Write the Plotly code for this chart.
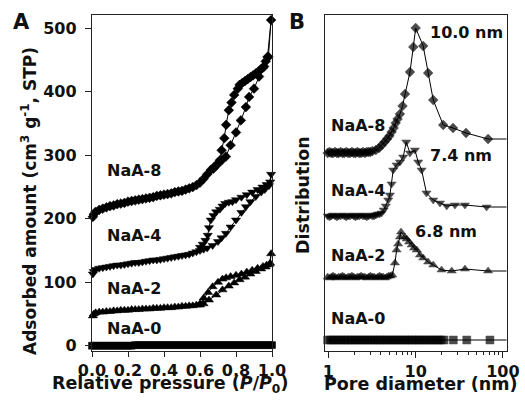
import plotly.graph_objects as go

# ---------------- Panel A: isotherms (relative pressure, adsorbed amount) ----------------
p8_ads = [0.005, 0.01, 0.02, 0.04, 0.06, 0.08, 0.10, 0.12, 0.14, 0.16, 0.18, 0.20, 0.22, 0.24, 0.26, 0.28,
          0.30, 0.32, 0.34, 0.36, 0.38, 0.40, 0.42, 0.44, 0.46, 0.48, 0.50, 0.52, 0.54, 0.56, 0.58, 0.60,
          0.62, 0.64, 0.66, 0.68, 0.70, 0.72, 0.744, 0.77, 0.80, 0.827, 0.855, 0.873, 0.90, 0.928, 0.95,
          0.965, 0.98, 0.995]
v8_ads = [203, 207, 211, 214, 216, 218, 220, 221, 223, 224, 225, 227, 228, 229, 230, 231,
          232, 233, 234, 236, 237, 238, 239, 240, 242, 243, 244, 246, 248, 250, 253, 257,
          263, 270, 277, 282, 287, 292, 298, 316, 336, 355, 376, 392, 405, 424, 438,
          448, 455, 513]
p8_des = [0.975, 0.956, 0.94, 0.925, 0.91, 0.895, 0.88, 0.865, 0.85, 0.835, 0.82, 0.81, 0.79, 0.775,
          0.76, 0.745, 0.735, 0.72, 0.71, 0.69, 0.675]
v8_des = [455, 440, 436, 432, 429, 426, 423, 420, 417, 414, 411, 405, 395, 383,
          371, 348, 327, 308, 292, 284, 279]

p4_ads = [0.005, 0.01, 0.02, 0.04, 0.06, 0.08, 0.10, 0.12, 0.14, 0.16, 0.18, 0.20, 0.22, 0.24, 0.26, 0.28,
          0.30, 0.32, 0.34, 0.36, 0.38, 0.40, 0.42, 0.44, 0.46, 0.48, 0.50, 0.52, 0.54, 0.56, 0.58, 0.60,
          0.62, 0.64, 0.67, 0.70, 0.72, 0.744, 0.77, 0.80, 0.83, 0.855, 0.88, 0.91, 0.94, 0.96, 0.983, 0.995]
v4_ads = [113, 117, 120, 122, 123, 124, 125, 126, 127, 127, 128, 129, 130, 131, 131, 132,
          133, 134, 135, 135, 136, 137, 138, 139, 140, 141, 142, 143, 144, 146, 148, 150,
          152, 154, 158, 164, 170, 177, 187, 198, 210, 219, 227, 235, 242, 246, 252, 270]
p4_des = [0.99, 0.97, 0.947, 0.92, 0.89, 0.86, 0.83, 0.80, 0.78, 0.76, 0.74, 0.725, 0.71, 0.69, 0.675,
          0.66, 0.65, 0.643, 0.63, 0.615, 0.60]
v4_des = [258, 254, 250, 246, 242, 238, 234, 230, 227, 226, 224, 220, 215, 211, 205,
          198, 186, 174, 166, 160, 155]

p2_ads = [0.005, 0.01, 0.02, 0.04, 0.06, 0.08, 0.10, 0.12, 0.14, 0.16, 0.18, 0.20, 0.22, 0.24, 0.26, 0.28,
          0.30, 0.32, 0.34, 0.36, 0.38, 0.40, 0.42, 0.44, 0.46, 0.48, 0.50, 0.52, 0.54, 0.56, 0.58, 0.60,
          0.62, 0.65, 0.69, 0.725, 0.76, 0.79, 0.82, 0.85, 0.88, 0.91, 0.94, 0.965, 0.985, 0.995]
v2_ads = [47, 50, 52, 53, 53, 54, 54, 55, 55, 56, 56, 56, 57, 57, 57, 58,
          58, 58, 59, 59, 59, 60, 60, 60, 61, 61, 62, 62, 63, 63, 64, 64,
          66, 72, 80, 88, 94, 99, 104, 108, 113, 117, 121, 124, 128, 145]
p2_des = [0.99, 0.97, 0.95, 0.92, 0.89, 0.86, 0.83, 0.80, 0.77, 0.745, 0.725, 0.70, 0.67, 0.645, 0.62, 0.60]
v2_des = [130, 127, 125, 122, 119, 116, 113, 111, 109, 107, 105, 100, 93, 84, 75, 66]

p0 = [0.0, 0.02, 0.04, 0.06, 0.08, 0.10, 0.12, 0.14, 0.16, 0.18, 0.20, 0.22, 0.24, 0.26, 0.28, 0.30,
      0.32, 0.34, 0.36, 0.38, 0.40, 0.42, 0.44, 0.46, 0.48, 0.50, 0.52, 0.54, 0.56, 0.58, 0.60, 0.62,
      0.64, 0.66, 0.68, 0.70, 0.72, 0.74, 0.76, 0.78, 0.80, 0.82, 0.84, 0.86, 0.88, 0.90, 0.92, 0.94,
      0.96, 0.98, 1.0]
v0 = [0, 0, 0, 0, 0, 0, 0, 0, 0, 0, 0, 0, 1, 1, 1, 1,
      1, 1, 1, 1, 1, 1, 1, 1, 1, 1, 1, 1, 1, 1, 1, 1,
      1, 1, 1, 1, 1, 1, 1, 1, 1, 1, 1, 1, 1, 1, 1, 1,
      1, 1, 1]

# ---------------- Panel B: pore size distributions (pore diameter nm, arbitrary units) ----------------
d8 = [0.98, 1.03, 1.08, 1.13, 1.19, 1.25, 1.31, 1.38, 1.45, 1.52, 1.6, 1.68, 1.77, 1.86, 1.95, 2.05,
      2.15, 2.26, 2.37, 2.49, 2.62, 2.75, 2.89, 3.03, 3.2, 3.5, 3.8, 4.1, 4.4, 4.7, 5.0, 5.3, 5.6, 5.9,
      6.2, 6.6, 7.07, 7.55, 8.6, 9.4, 10.0, 12.2, 13.9, 15.9, 20.7, 26.8, 37.8, 67.6, 120]
f8 = [197, 198, 197, 197, 198, 197, 197, 198, 197, 197, 198, 197, 197, 198, 197, 197,
      198, 197, 197, 198, 197, 198, 198, 198, 199, 200, 202, 205, 208, 211, 214, 218, 222, 227,
      231, 236, 244, 256, 278, 303, 322, 304, 277, 250, 225, 222, 217, 211, 211]

d4 = [0.98, 1.03, 1.08, 1.13, 1.19, 1.25, 1.31, 1.38, 1.45, 1.52, 1.6, 1.68, 1.77, 1.86, 1.95, 2.05,
      2.15, 2.26, 2.37, 2.49, 2.62, 2.75, 2.89, 3.03, 3.18, 3.34, 3.5, 3.68, 3.86, 4.07, 4.3, 4.55,
      4.85, 5.07, 5.3, 5.53, 6.05, 6.6, 7.2, 7.8, 8.6, 9.8, 10.7, 11.7, 13.3, 15.9, 19.0, 22.7, 28.2,
      36.7, 65, 120]
f4 = [134, 133, 134, 135, 134, 133, 134, 134, 135, 134, 133, 134, 134, 135, 134, 133,
      134, 134, 135, 134, 134, 133, 134, 135, 134, 134, 135, 136, 136, 137, 140, 144,
      150, 155, 166, 180, 185, 188, 193, 208, 197, 200, 188, 180, 157, 150, 147, 144, 145,
      145, 143, 143]

d2 = [0.98, 1.03, 1.08, 1.13, 1.19, 1.25, 1.31, 1.38, 1.45, 1.52, 1.6, 1.68, 1.77, 1.86, 1.95, 2.05,
      2.15, 2.26, 2.37, 2.49, 2.62, 2.75, 2.89, 3.03, 3.18, 3.34, 3.5, 3.68, 3.86, 4.05, 4.25, 4.46,
      4.68, 4.91, 5.15, 5.4, 5.79, 6.05, 6.3, 6.6, 6.8, 7.5, 7.9, 8.4, 9.0, 9.6, 10.3, 11.2, 12.2,
      13.9, 15.9, 19.8, 25.9, 36.7, 67.6, 120]
f2 = [73, 72, 73, 74, 73, 72, 73, 73, 74, 73, 72, 73, 73, 74, 73, 72,
      73, 73, 74, 73, 73, 72, 73, 74, 73, 73, 72, 73, 74, 73, 73, 72,
      73, 74, 74, 75, 87, 100, 106, 113, 118, 113, 111, 108, 105, 102, 100, 95, 92,
      88, 85, 80, 79, 81, 79, 79]

d0 = [0.98, 1.06, 1.14, 1.23, 1.33, 1.43, 1.55, 1.67, 1.8, 1.95, 2.1, 2.27, 2.45, 2.65, 2.86, 3.09,
      3.34, 3.6, 3.89, 4.2, 4.54, 4.9, 5.3, 5.72, 6.18, 6.67, 7.2, 7.78, 8.4, 9.07, 9.8, 10.6, 11.4,
      12.3, 13.3, 14.4, 15.5, 16.8, 18.1, 19.6, 21.1, 27, 38.5, 71, 120]
f0 = [10, 10, 10, 10, 10, 10, 10, 10, 10, 10, 10, 10, 10, 10, 10, 10,
      10, 10, 10, 10, 10, 10, 10, 10, 10, 10, 10, 10, 10, 10, 10, 10, 10,
      10, 10, 10, 10, 10, 10, 10, 10, 10, 10, 10, 10]

samples = ["NaA-8", "NaA-4", "NaA-2", "NaA-0"]
peak_labels = ["10.0 nm", "7.4 nm", "6.8 nm"]
xticks_A = [0.0, 0.2, 0.4, 0.6, 0.8, 1.0]
yticks_A = [0, 100, 200, 300, 400, 500]
xticks_B = [1, 10, 100]
xminor_B = [2, 3, 4, 5, 6, 7, 8, 9, 20, 30, 40, 50, 60, 70, 80, 90]

# ---------------- figure ----------------
W, H = 525, 409
INK = "#111111"
MARK = "#000000"
FONT = "DejaVu Sans"

def px(x):
    return x / W

def py(y):
    return 1 - y / H

fig = go.Figure()

iso = [
    (p8_ads + p8_des, v8_ads + v8_des, "diamond", 7.5),
    (p4_ads + p4_des, v4_ads + v4_des, "triangle-down", 8),
    (p2_ads + p2_des, v2_ads + v2_des, "triangle-up", 8),
    (p0, v0, "square", 7),
]
for (xs, ys, sym, sz), name in zip(iso, samples):
    fig.add_trace(go.Scatter(
        x=xs, y=ys, mode="lines+markers", name=name, xaxis="x", yaxis="y",
        line=dict(color=MARK, width=1), cliponaxis=False,
        marker=dict(symbol=sym, size=sz, color=MARK, line=dict(width=0.5, color=MARK)),
        showlegend=False))

psd = [
    (d8, f8, "diamond", 7.5),
    (d4, f4, "triangle-down", 8),
    (d2, f2, "triangle-up", 8),
    (d0, f0, "square", 8),
]
for (xs, ys, sym, sz), name in zip(psd, samples):
    sizes = [sz] * (len(xs) - 1) + [0]
    fig.add_trace(go.Scatter(
        x=xs, y=ys, mode="lines+markers", name=name, xaxis="x2", yaxis="y2",
        line=dict(color=MARK, width=1), cliponaxis=False,
        marker=dict(symbol=sym, size=sizes, color=MARK, line=dict(width=0.5, color=MARK)),
        showlegend=False))

tickfont = dict(family=FONT, size=16, color=INK, weight="bold")
axis_common = dict(showline=True, linecolor="#222", linewidth=1.3, mirror=True,
                   showgrid=False, zeroline=False, tickcolor="#222", tickwidth=1.3,
                   automargin=False)

y_bottom = 351
fig.update_layout(
    width=W, height=H, margin=dict(l=0, r=0, t=0, b=0, autoexpand=False),
    paper_bgcolor="white", plot_bgcolor="white",
    xaxis=dict(domain=[px(92), px(272)], range=[0, 1.0], tickvals=xticks_A,
               ticktext=["%.1f" % v for v in xticks_A], ticks="outside", ticklen=5,
               tickfont=tickfont, anchor="y", **axis_common),
    yaxis=dict(domain=[py(y_bottom), py(15)], range=[-8.3, 521], tickvals=yticks_A,
               ticks="outside", ticklen=6, tickfont=tickfont, anchor="x",
               ticklabelstandoff=5, **axis_common),
    xaxis2=dict(domain=[px(325), px(506.5)], type="log", range=[-0.039, 2.041],
                tickvals=xticks_B, ticktext=[str(v) for v in xticks_B],
                ticks="outside", ticklen=6, tickfont=tickfont, anchor="y2",
                minor=dict(tickvals=xminor_B, ticks="outside", ticklen=3,
                           tickcolor="#222", tickwidth=1.2),
                **axis_common),
    yaxis2=dict(domain=[py(y_bottom), py(15)], range=[-1, 335], showticklabels=False,
                ticks="", anchor="x2", **axis_common),
)

def label(text, x, y, size=16, xanchor="left", angle=0):
    fig.add_annotation(text=text, x=px(x), y=py(y), xref="paper", yref="paper",
                       xanchor=xanchor, yanchor="middle", showarrow=False, textangle=angle,
                       font=dict(family=FONT, size=size, color=INK, weight="bold"))

# panel letters
label("A", 21, 22, size=21, xanchor="center")
label("B", 297, 22, size=21, xanchor="center")

# sample labels panel A
for name, yy in zip(samples, [170, 235, 288, 328]):
    label(name, 105, yy)
# sample labels panel B
for name, yy in zip(samples, [125, 190, 255, 318]):
    label(name, 329, yy)
# peak labels
for t, (xx, yy) in zip(peak_labels, [(428, 33), (428, 155), (413, 232)]):
    label(t, xx, yy)

# axis titles
label("Relative pressure (<i>P</i>/<i>P</i><sub>0</sub>)", 170, 384, size=17.5, xanchor="center")
label("Pore diameter (nm)", 421, 384, size=17.5, xanchor="center")
label("Adsorbed amount (cm<sup>3</sup> g<sup>-1</sup>, STP)", 29, 201, size=17, xanchor="center", angle=-90)
label("Distribution", 303, 195, size=17.5, xanchor="center", angle=-90)

fig.write_html("out.html", config={"displayModeBar": False},
               post_script="document.body.style.margin='0';document.body.style.overflow='hidden';")
